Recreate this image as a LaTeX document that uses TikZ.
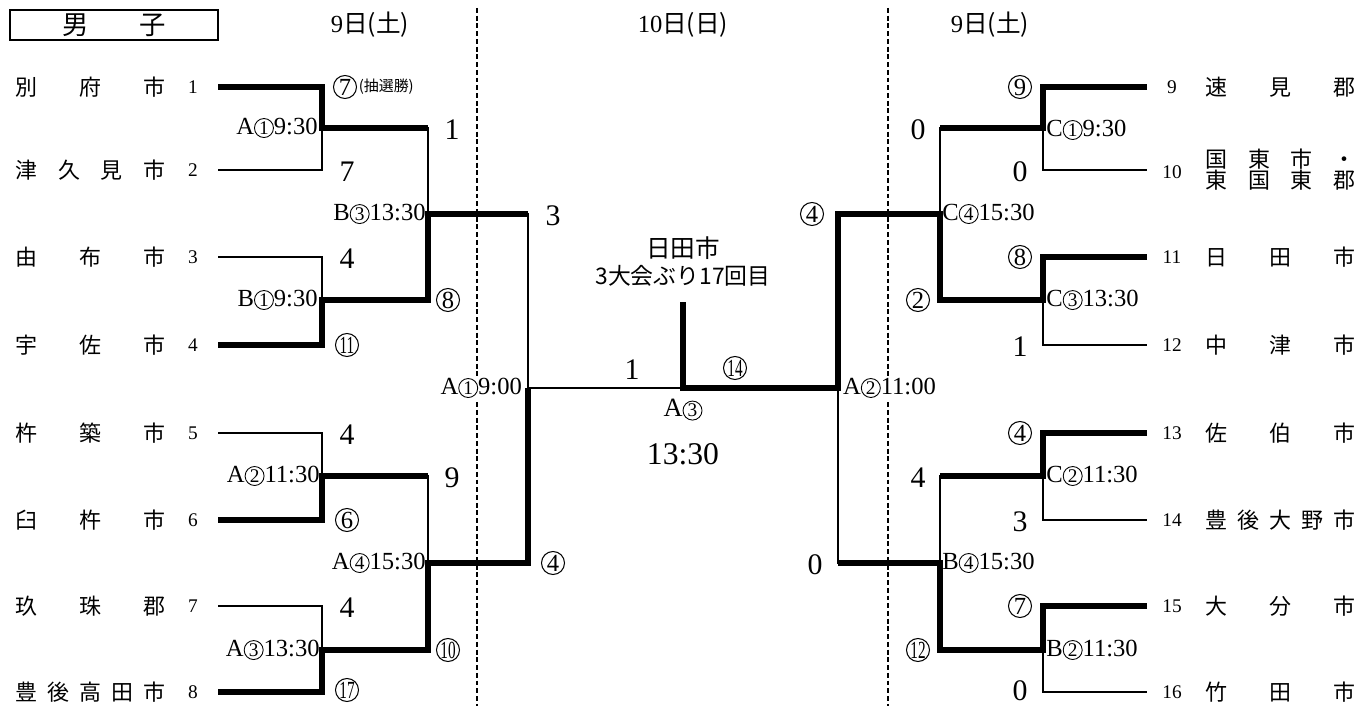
\documentclass[tikz,border=0pt]{standalone}
\usepackage{fontspec}
\usepackage{graphicx}
\setmainfont{Liberation Serif}
\newfontfamily\jpfont{Noto Sans CJK JP}
\usetikzlibrary{positioning}
\newcommand{\cn}[1]{{\jpfont #1}}
% small circled digit inside the match labels
\newcommand{\cnum}[1]{\tikz[baseline=(cnx.base)]\node[circle,draw,line width=0.5pt,
  inner sep=0pt,minimum size=0.38cm,font=\fontsize{11}{11}\selectfont] (cnx) {#1};}
\newcommand{\nar}[1]{\scalebox{0.62}[1]{#1}}
\newcommand{\tmname}[1]{\hbox to 3cm{#1}}

\begin{document}
\begin{tikzpicture}[x=0.02cm,y=-0.02cm,
  thn/.style={line width=0.9pt},
  thk/.style={line width=3.8pt},
  daysep/.style={line width=1.1pt,dash pattern=on 2.8pt off 1.6pt},
  tname/.style={font=\jpfont\fontsize{12.5}{14}\selectfont,inner sep=0pt},
  tnum/.style={font=\fontsize{11}{12}\selectfont,inner sep=0pt},
  sc/.style={font=\fontsize{17}{17}\selectfont,inner sep=0pt},
  wn/.style={circle,draw,line width=0.6pt,minimum size=0.46cm,inner sep=0pt,
    font=\fontsize{14}{14}\selectfont},
  chmp/.style={font=\jpfont\fontsize{14}{14}\selectfont,inner sep=0pt},
  tm/.style={font=\fontsize{14}{14}\selectfont,inner sep=0pt},
  day/.style={font=\fontsize{14}{14}\selectfont,inner sep=0pt}
]
\useasboundingbox (0,0) rectangle (1360,706);

% day separators
\draw[daysep] (477,8) -- (477,706);
\draw[daysep] (888,8) -- (888,706);

% header
\node[draw,line width=1.2pt,minimum width=4.16cm,minimum height=0.6cm,inner sep=0pt,
  font=\jpfont\fontsize{15}{15}\selectfont] (hd) at (114,25) {男\hspace{1.9em}子};
\node[day] (dL) at (370,25) {9\cn{日(土)}};
\node[day] (dC) at (683,25) {10\cn{日(日)}};
\node[day] (dR) at (990,25) {9\cn{日(土)}};

% team ends
\foreach \i/\y in {1/87,2/170,3/257,4/345,5/433,6/520,7/606,8/692}
  \coordinate (L\i) at (218,\y);
\foreach \i/\y in {9/87,10/170,11/257,12/345,13/433,14/520,15/606,16/692}
  \coordinate (R\i) at (1147,\y);
% junctions
\coordinate (a1) at (322,128); \coordinate (a2) at (322,300);
\coordinate (a3) at (322,476); \coordinate (a4) at (322,650);
\coordinate (b1) at (428,214); \coordinate (b2) at (428,563);
\coordinate (c1) at (528,388);
\coordinate (f)  at (683,388); \coordinate (w)  at (683,302);
\coordinate (g1) at (838,388);
\coordinate (e1) at (940,214); \coordinate (e2) at (940,563);
\coordinate (d1) at (1043,128); \coordinate (d2) at (1043,300);
\coordinate (d3) at (1043,476); \coordinate (d4) at (1043,650);

% bracket
\draw[thn] (L1) -| (a1) |- (L2);
\draw[thn] (L3) -| (a2) |- (L4);
\draw[thn] (L5) -| (a3) |- (L6);
\draw[thn] (L7) -| (a4) |- (L8);
\draw[thn] (a1) -| (b1) |- (a2);
\draw[thn] (a3) -| (b2) |- (a4);
\draw[thn] (b1) -| (c1) |- (b2);
\draw[thn] (R9) -| (d1) |- (R10);
\draw[thn] (R11) -| (d2) |- (R12);
\draw[thn] (R13) -| (d3) |- (R14);
\draw[thn] (R15) -| (d4) |- (R16);
\draw[thn] (d1) -| (e1) |- (d2);
\draw[thn] (d3) -| (e2) |- (d4);
\draw[thn] (e1) -| (g1) |- (e2);
\draw[thn] (c1) -- (f) -- (g1);

% winners
\draw[thk] (L1) -| (a1) -- (a1 -| b1);
\draw[thk] (L4) -| (a2) -| (b1) -- (b1 -| c1);
\draw[thk] (L6) -| (a3) -- (a3 -| b2);
\draw[thk] (L8) -| (a4) -| (b2) -| (c1);
\draw[thk] (R9) -| (d1) -- (d1 -| e1);
\draw[thk] (R11) -| (d2) -| (e1) -| (g1) -- (f) -- (w);
\draw[thk] (R13) -| (d3) -- (d3 -| e2);
\draw[thk] (R15) -| (d4) -| (e2) -- (e2 -| g1);

% teams left
\foreach \i/\y/\t in {1/87/{別\hfill 府\hfill 市},2/170/{津\hfill 久\hfill 見\hfill 市},
  3/257/{由\hfill 布\hfill 市},4/345/{宇\hfill 佐\hfill 市},5/433/{杵\hfill 築\hfill 市},
  6/520/{臼\hfill 杵\hfill 市},7/606/{玖\hfill 珠\hfill 郡},8/692/{豊\hfill 後\hfill 高\hfill 田\hfill 市}}{
  \node[tname,anchor=west] (nL\i) at (15,\y) {\tmname{\t}};
  \node[tnum] (sL\i) at (193,\y) {\i};
}
% teams right
\foreach \i/\y/\t in {9/87/{速\hfill 見\hfill 郡},11/257/{日\hfill 田\hfill 市},
  12/345/{中\hfill 津\hfill 市},13/433/{佐\hfill 伯\hfill 市},14/520/{豊\hfill 後\hfill 大\hfill 野\hfill 市},
  15/606/{大\hfill 分\hfill 市},16/692/{竹\hfill 田\hfill 市}}{
  \node[tname,anchor=west] (nR\i) at (1205,\y) {\tmname{\t}};
  \node[tnum] (sR\i) at (1172,\y) {\i};
}
\node[tname,anchor=west,align=left] (nR10) at (1205,170)
  {\tmname{国\hfill 東\hfill 市\hfill ・}\\[-2pt]\tmname{東\hfill 国\hfill 東\hfill 郡}};
\node[tnum] (sR10) at (1172,172) {10};

% scores left
\node[wn] (k1) at (345,87) {7};
\node[font=\jpfont\fontsize{8.5}{8.5}\selectfont,inner sep=0pt,right=0.3mm of k1] (k1x) {(抽選勝)};
\node[sc] (k2) at (347,172) {7};
\node[sc] (k3) at (347,259) {4};
\node[wn] (k4) at (347,345) {\nar{11}};
\node[sc] (k5) at (347,435) {4};
\node[wn] (k6) at (347,520) {6};
\node[sc] (k7) at (347,608) {4};
\node[wn] (k8) at (347,690) {\nar{17}};
\node[sc] (m1) at (452,130) {1};
\node[wn] (m2) at (448,300) {8};
\node[sc] (m3) at (452,478) {9};
\node[wn] (m4) at (448,650) {\nar{10}};
\node[sc] (q1) at (553,216) {3};
\node[wn] (q2) at (553,563) {4};
\node[sc] (fL) at (632,370) {1};

% scores right
\node[wn] (k9)  at (1020,87) {9};
\node[sc] (k10) at (1020,172) {0};
\node[wn] (k11) at (1020,257) {8};
\node[sc] (k12) at (1020,347) {1};
\node[wn] (k13) at (1020,433) {4};
\node[sc] (k14) at (1020,522) {3};
\node[wn] (k15) at (1020,606) {7};
\node[sc] (k16) at (1020,691) {0};
\node[sc] (m5) at (918,130) {0};
\node[wn] (m6) at (918,300) {2};
\node[sc] (m7) at (918,478) {4};
\node[wn] (m8) at (918,650) {\nar{12}};
\node[wn] (q3) at (812,214) {4};
\node[sc] (q4) at (815,565) {0};
\node[wn] (fR) at (735,368) {\nar{14}};

% match times
\node[tm,anchor=east] (t1) at (318,128) {A\cnum{1}9:30};
\node[tm,anchor=east] (t2) at (318,300) {B\cnum{1}9:30};
\node[tm,anchor=east] (t3) at (320,476) {A\cnum{2}11:30};
\node[tm,anchor=east] (t4) at (320,650) {A\cnum{3}13:30};
\node[tm,anchor=east] (t5) at (426,214) {B\cnum{3}13:30};
\node[tm,anchor=east] (t6) at (426,563) {A\cnum{4}15:30};
\node[tm,anchor=east,fill=white,inner sep=1pt] (t7) at (524,388) {A\cnum{1}9:00};
\node[tm,anchor=west] (t8) at (1046,130) {C\cnum{1}9:30};
\node[tm,anchor=west] (t9) at (1046,300) {C\cnum{3}13:30};
\node[tm,anchor=west] (t10) at (1046,476) {C\cnum{2}11:30};
\node[tm,anchor=west] (t11) at (1046,650) {B\cnum{2}11:30};
\node[tm,anchor=west] (t12) at (942,214) {C\cnum{4}15:30};
\node[tm,anchor=west] (t13) at (942,563) {B\cnum{4}15:30};
\node[tm,anchor=west,fill=white,inner sep=1pt] (t14) at (841,388) {A\cnum{2}11:00};
\node[tm,font=\fontsize{15}{15}\selectfont] (t15) at (683,410) {A\cnum{3}};
\node[sc,font=\fontsize{18}{18}\selectfont] (t16) at (683,454) {13:30};

% champion
\node[chmp] (ch) at (683,248) {日田市};
\node[font=\jpfont\fontsize{13}{13}\selectfont,inner sep=0pt,below=1mm of ch] (chx) {3大会ぶり17回目};
\end{tikzpicture}
\end{document}
